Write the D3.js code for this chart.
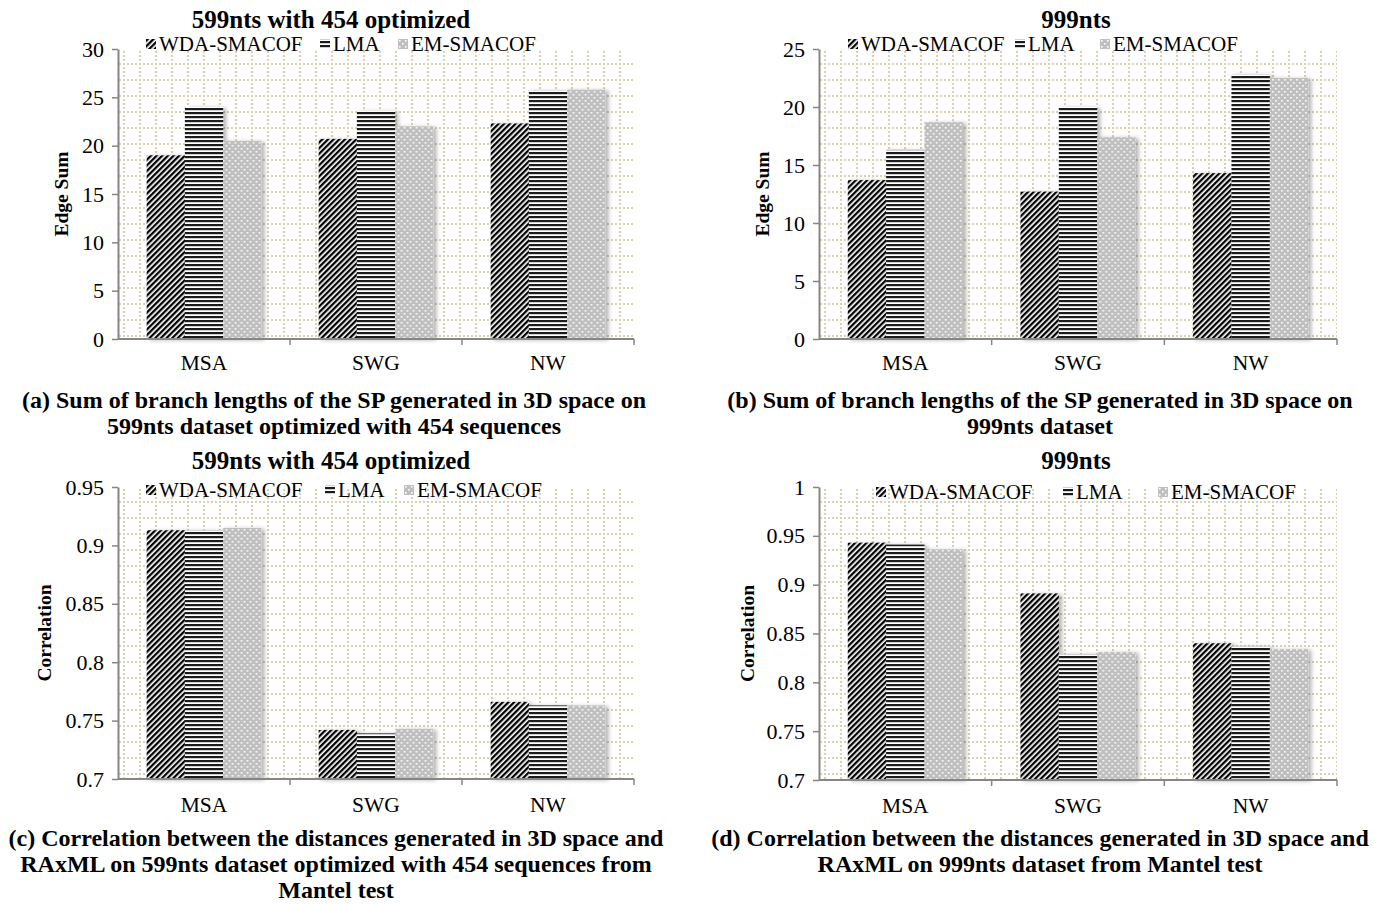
<!DOCTYPE html>
<html>
<head>
<meta charset="utf-8">
<script src="https://cdn.jsdelivr.net/npm/d3@7"></script>
<style>
  body { margin: 0; background: #fff; }
  svg { display: block; font-family: "Liberation Serif", "Times New Roman", serif; }
</style>
</head>
<body>
<svg id="chart" width="1381" height="905"></svg>
<script>
const categories = ['MSA', 'SWG', 'NW'];
const seriesNames = ['WDA-SMACOF', 'LMA', 'EM-SMACOF'];

// values per series, in category order
const edge599WDA = [19.0, 20.7, 22.3];
const edge599LMA = [24.0, 23.6, 25.7];
const edge599EM = [20.5, 22.0, 25.8];
const edge999WDA = [13.7, 12.7, 14.3];
const edge999LMA = [16.3, 20.0, 22.8];
const edge999EM = [18.7, 17.4, 22.5];
const corr599WDA = [0.913, 0.742, 0.766];
const corr599LMA = [0.913, 0.739, 0.763];
const corr599EM = [0.915, 0.743, 0.763];
const corr999WDA = [0.943, 0.891, 0.840];
const corr999LMA = [0.941, 0.829, 0.837];
const corr999EM = [0.936, 0.831, 0.834];

const edge599Ticks = [0, 5, 10, 15, 20, 25, 30];
const edge999Ticks = [0, 5, 10, 15, 20, 25];
const corr599Ticks = [0.7, 0.75, 0.8, 0.85, 0.9, 0.95];
const corr999Ticks = [0.7, 0.75, 0.8, 0.85, 0.9, 0.95, 1];

const svg = d3.select('#chart');
const defs = svg.append('defs');

// bar fills
const hatch = defs.append('pattern')
  .attr('id', 'fill-wda')
  .attr('patternUnits', 'userSpaceOnUse')
  .attr('width', 4).attr('height', 4)
  .attr('patternTransform', 'rotate(45)');
hatch.append('rect').attr('width', 4).attr('height', 4).attr('fill', '#fff');
hatch.append('rect').attr('width', 2.3).attr('height', 4).attr('fill', '#000');

const stripes = defs.append('pattern')
  .attr('id', 'fill-lma')
  .attr('patternUnits', 'userSpaceOnUse')
  .attr('width', 4).attr('height', 4);
stripes.append('rect').attr('width', 4).attr('height', 4).attr('fill', '#fff');
stripes.append('rect').attr('width', 4).attr('height', 2.2).attr('fill', '#1a1a1a');

const dots = defs.append('pattern')
  .attr('id', 'fill-em')
  .attr('patternUnits', 'userSpaceOnUse')
  .attr('width', 6).attr('height', 6);
dots.append('rect').attr('width', 6).attr('height', 6).attr('fill', '#bfbfbf');
dots.append('rect').attr('x', 1).attr('y', 1).attr('width', 1.6).attr('height', 1.6).attr('fill', '#fff');
dots.append('rect').attr('x', 4).attr('y', 4).attr('width', 1.6).attr('height', 1.6).attr('fill', '#fff');

const fills = ['url(#fill-wda)', 'url(#fill-lma)', 'url(#fill-em)'];

const shadow = defs.append('filter')
  .attr('id', 'shadow')
  .attr('x', '-20%').attr('y', '-10%')
  .attr('width', '150%').attr('height', '130%');
shadow.append('feDropShadow')
  .attr('dx', 3).attr('dy', 1)
  .attr('stdDeviation', 2)
  .attr('flood-color', '#000')
  .attr('flood-opacity', 0.3);

function gridPattern(id, ox, oy) {
  const p = defs.append('pattern')
    .attr('id', id)
    .attr('patternUnits', 'userSpaceOnUse')
    .attr('x', ox).attr('y', oy)
    .attr('width', 16).attr('height', 16);
  for (let i = 0; i < 4; i++) {
    p.append('rect').attr('x', i * 4).attr('y', 0).attr('width', 2).attr('height', 2).attr('fill', '#d8d1b3');
    p.append('rect').attr('x', 0).attr('y', i * 4).attr('width', 2).attr('height', 2).attr('fill', '#d8d1b3');
  }
}

function drawChart(cfg) {
  const g = svg.append('g');
  gridPattern(cfg.id + '-grid', cfg.x0 + 5, cfg.yTop + 14);

  const x = d3.scaleBand().domain(categories).range([cfg.x0, cfg.x1]);
  const barW = x.bandwidth() / 4.5;
  const xSub = d3.scaleBand().domain(seriesNames).range([0, barW * 3]);
  const groupOff = (x.bandwidth() - barW * 3) / 2;
  const y = d3.scaleLinear().domain(cfg.domain).range([cfg.yBot, cfg.yTop]);

  // plot area pattern
  g.append('rect')
    .attr('x', cfg.x0 + 1).attr('y', cfg.yTop)
    .attr('width', cfg.x1 - cfg.x0 - 1).attr('height', cfg.yBot - cfg.yTop)
    .attr('fill', `url(#${cfg.id}-grid)`);

  // bars
  const rows = categories.map((c, i) => ({
    cat: c,
    vals: cfg.series.map((s, k) => ({ name: seriesNames[k], v: s[i], k }))
  }));
  g.append('g')
    .selectAll('g')
    .data(rows)
    .join('g')
    .attr('transform', d => `translate(${x(d.cat) + groupOff},0)`)
    .selectAll('rect')
    .data(d => d.vals)
    .join('rect')
    .attr('x', d => xSub(d.name))
    .attr('width', xSub.bandwidth())
    .attr('y', d => y(d.v))
    .attr('height', d => cfg.yBot - y(d.v))
    .attr('fill', d => fills[d.k])
    .attr('filter', 'url(#shadow)');

  // y axis
  const yAxis = g.append('g')
    .attr('transform', `translate(${cfg.x0},0)`)
    .call(d3.axisLeft(y).tickValues(cfg.ticks).tickSize(6).tickSizeOuter(0).tickFormat(d => d));
  yAxis.select('.domain').attr('stroke', '#868686').attr('stroke-width', 2);
  yAxis.selectAll('.tick line').attr('stroke', '#868686').attr('stroke-width', 1.5);
  yAxis.selectAll('.tick text')
    .attr('x', -14)
    .attr('fill', '#000')
    .style('font-size', '22px')
    .style('font-family', '"Liberation Serif", serif');

  // x axis
  const xAxis = g.append('g')
    .attr('transform', `translate(0,${cfg.yBot})`)
    .call(d3.axisBottom(x).tickSize(0));
  xAxis.select('.domain').remove();
  xAxis.selectAll('.tick text')
    .attr('y', cfg.xLabelDy)
    .attr('dy', 0)
    .attr('fill', '#000')
    .style('font-size', '21.5px')
    .style('font-family', '"Liberation Serif", serif');
  g.append('line')
    .attr('x1', cfg.x0).attr('x2', cfg.x1)
    .attr('y1', cfg.yBot).attr('y2', cfg.yBot)
    .attr('stroke', '#868686').attr('stroke-width', 2);
  g.append('g')
    .selectAll('line')
    .data(categories.map(c => x(c) + x.bandwidth()))
    .join('line')
    .attr('x1', d => d).attr('x2', d => d)
    .attr('y1', cfg.yBot).attr('y2', cfg.yBot + 6)
    .attr('stroke', '#868686').attr('stroke-width', 1.5);

  // title
  g.append('text')
    .attr('x', cfg.titleX).attr('y', cfg.titleY)
    .attr('text-anchor', 'middle')
    .style('font-size', '25px').style('font-weight', 'bold')
    .text(cfg.title);

  // y label
  g.append('text')
    .attr('transform', `translate(${cfg.ylabelX},${(cfg.yTop + cfg.yBot) / 2}) rotate(-90)`)
    .attr('text-anchor', 'middle')
    .style('font-size', '19.5px').style('font-weight', 'bold')
    .text(cfg.ylabel);

  // legend
  const leg = g.append('g')
    .selectAll('g')
    .data(seriesNames)
    .join('g')
    .attr('transform', (d, i) => `translate(${cfg.legendX[i]},${cfg.legendY})`);
  leg.append('rect')
    .attr('x', 0).attr('y', -6)
    .attr('width', 10).attr('height', 10)
    .attr('fill', (d, i) => fills[i]);
  leg.append('text')
    .attr('x', 13).attr('y', 6)
    .style('font-size', '21px')
    .text(d => d);

  // caption
  g.append('text')
    .attr('x', cfg.captionX).attr('y', cfg.captionY)
    .attr('text-anchor', 'middle')
    .style('font-size', '24px').style('font-weight', 'bold')
    .selectAll('tspan')
    .data(cfg.caption)
    .join('tspan')
    .attr('x', cfg.captionX)
    .attr('dy', (d, i) => (i === 0 ? 0 : 26))
    .text(d => d);
}

drawChart({
  id: 'a', series: [edge599WDA, edge599LMA, edge599EM], ticks: edge599Ticks,
  x0: 118, x1: 634, yTop: 49, yBot: 339, domain: [0, 30], xLabelDy: 31,
  title: '599nts with 454 optimized', titleX: 331, titleY: 28,
  ylabel: 'Edge Sum', ylabelX: 68,
  legendX: [146, 320, 398], legendY: 45,
  caption: ['(a) Sum of branch lengths of the SP generated in 3D space on',
            '599nts dataset optimized with 454 sequences'],
  captionX: 334, captionY: 408
});

drawChart({
  id: 'b', series: [edge999WDA, edge999LMA, edge999EM], ticks: edge999Ticks,
  x0: 819, x1: 1337, yTop: 49, yBot: 339, domain: [0, 25], xLabelDy: 31,
  title: '999nts', titleX: 1076, titleY: 28,
  ylabel: 'Edge Sum', ylabelX: 769,
  legendX: [848, 1015, 1100], legendY: 45,
  caption: ['(b) Sum of branch lengths of the SP generated in 3D space on',
            '999nts dataset'],
  captionX: 1040, captionY: 408
});

drawChart({
  id: 'c', series: [corr599WDA, corr599LMA, corr599EM], ticks: corr599Ticks,
  x0: 118, x1: 634, yTop: 487, yBot: 779, domain: [0.7, 0.95], xLabelDy: 33,
  title: '599nts with 454 optimized', titleX: 331, titleY: 469,
  ylabel: 'Correlation', ylabelX: 51,
  legendX: [146, 325, 404], legendY: 491,
  caption: ['(c) Correlation between the distances generated in 3D space and',
            'RAxML on 599nts dataset optimized with 454 sequences from',
            'Mantel test'],
  captionX: 336, captionY: 846
});

drawChart({
  id: 'd', series: [corr999WDA, corr999LMA, corr999EM], ticks: corr999Ticks,
  x0: 819, x1: 1337, yTop: 487, yBot: 780, domain: [0.7, 1], xLabelDy: 33,
  title: '999nts', titleX: 1076, titleY: 469,
  ylabel: 'Correlation', ylabelX: 754,
  legendX: [876, 1063, 1158], legendY: 493,
  caption: ['(d) Correlation between the distances generated in 3D space and',
            'RAxML on 999nts dataset from Mantel test'],
  captionX: 1040, captionY: 846
});
</script>
</body>
</html>
